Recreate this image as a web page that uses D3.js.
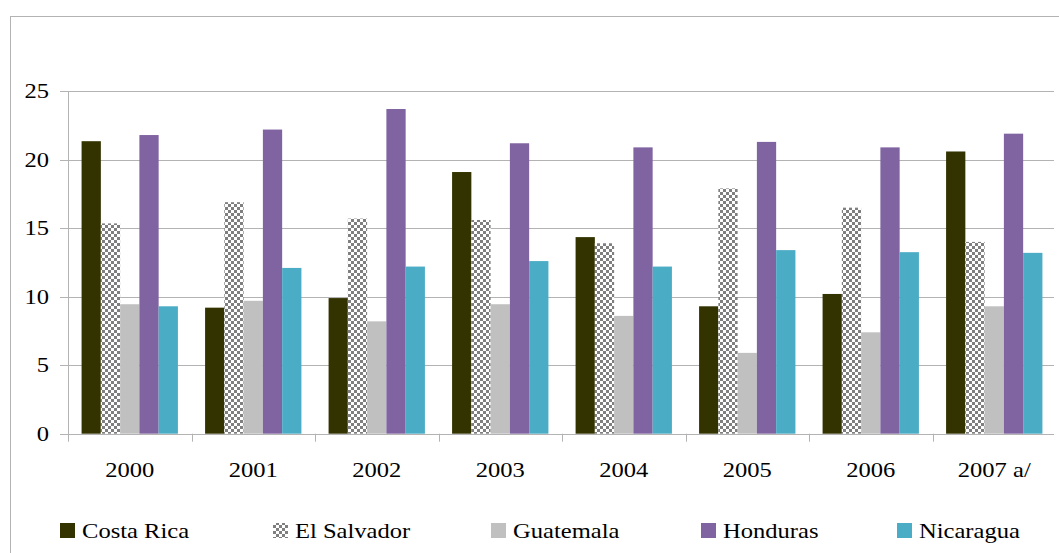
<!DOCTYPE html>
<html><head><meta charset="utf-8">
<script src="https://cdn.jsdelivr.net/npm/d3@7/dist/d3.min.js"></script>
<style>body{margin:0;background:#fff;font-family:'Liberation Serif'}svg{display:block}</style>
</head><body style="font-family:'Liberation Serif'"><svg id="c" width="1059" height="553" font-family="Liberation Serif" style="font-family:'Liberation Serif'"></svg>
<script>
const categories = ["2000","2001","2002","2003","2004","2005","2006","2007 a/"];
const seriesNames = ["Costa Rica","El Salvador","Guatemala","Honduras","Nicaragua"];
const costaRica = [21.35,9.2,9.9,19.1,14.35,9.3,10.2,20.6];
const elSalvador = [15.35,16.9,15.7,15.6,13.9,17.9,16.5,14.0];
const guatemala = [9.45,9.7,8.2,9.45,8.6,5.9,7.4,9.3];
const honduras = [21.8,22.2,23.7,21.2,20.9,21.3,20.9,21.9];
const nicaragua = [9.3,12.1,12.2,12.6,12.2,13.4,13.25,13.2];
const yTicks = [0,5,10,15,20,25];
const seriesValues = [costaRica, elSalvador, guatemala, honduras, nicaragua];
const colors = ["#333300","url(#checker)","#c0c0c0","#8064a2","#4bacc6"];

const svg = d3.select("#c");
const defs = svg.append("defs");
const pat = defs.append("pattern").attr("id","checker").attr("patternUnits","userSpaceOnUse")
  .attr("width",6).attr("height",6);
pat.append("rect").attr("width",6).attr("height",6).attr("fill","#ffffff");
pat.append("rect").attr("x",0).attr("y",0).attr("width",3).attr("height",3).attr("fill","#7f7f7f");
pat.append("rect").attr("x",3).attr("y",3).attr("width",3).attr("height",3).attr("fill","#7f7f7f");

function label(sel, x, y, anchor, str){
  sel.append("text")
    .attr("transform",`translate(${x},${y}) scale(1.17,1)`)
    .attr("text-anchor",anchor)
    .attr("font-size",21)
    .attr("fill","#000")
    .text(str);
}

// outer border
svg.append("rect").attr("x",10.5).attr("y",16.5).attr("width",1060).attr("height",560)
  .attr("fill","none").attr("stroke","#b3b3b3").attr("stroke-width",1);

const pLeft = 68, pRight = 1056, pTop = 91.2, pBottom = 433.7;
const x = d3.scaleBand().domain(categories).range([pLeft,pRight]).paddingInner(0.22).paddingOuter(0.11);
const xOuter = d3.scaleBand().domain(categories).range([pLeft,pRight]);
const y = d3.scaleLinear().domain([0,25]).range([pBottom,pTop]);
const xs = d3.scaleBand().domain(seriesNames).range([0,x.bandwidth()]);

// gridlines + y labels
const g = svg.append("g");
g.selectAll("line.grid").data(yTicks).join("line")
  .attr("x1",60).attr("x2",1054).attr("y1",d=>Math.round(y(d))+0.5).attr("y2",d=>Math.round(y(d))+0.5)
  .attr("stroke","#b3b3b3").attr("stroke-width",1);
yTicks.forEach(t=>label(g, 49, y(t)+7, "end", String(t)));

// y axis line
svg.append("line").attr("x1",pLeft+0.5).attr("x2",pLeft+0.5).attr("y1",pTop).attr("y2",pBottom+8)
  .attr("stroke","#b3b3b3");
// x ticks at band boundaries
const bounds = categories.map(c=>xOuter(c)).concat([pRight]);
svg.selectAll("line.xt").data(bounds.slice(1,8)).join("line")
  .attr("x1",d=>Math.round(d)+0.5).attr("x2",d=>Math.round(d)+0.5).attr("y1",pBottom).attr("y2",pBottom+8)
  .attr("stroke","#b3b3b3");

// bars
seriesValues.forEach((vals,si)=>{
  svg.append("g").selectAll("rect").data(vals).join("rect")
    .attr("x",(d,i)=>x(categories[i])+xs(seriesNames[si]))
    .attr("width",xs.bandwidth())
    .attr("y",d=>y(d)).attr("height",d=>pBottom-y(d))
    .attr("fill",colors[si]);
});

// x labels
const xl = svg.append("g");
categories.forEach(c=>label(xl, xOuter(c)+xOuter.bandwidth()/2, 477, "middle", c));

// legend
const legendX = [60,273,491,701,897];
const lg = svg.append("g");
seriesNames.forEach((n,i)=>{
  lg.append("rect").attr("x",legendX[i]).attr("y",523).attr("width",15).attr("height",15).attr("fill",colors[i]);
  label(lg, legendX[i]+22, 538, "start", n);
});
</script></body></html>
